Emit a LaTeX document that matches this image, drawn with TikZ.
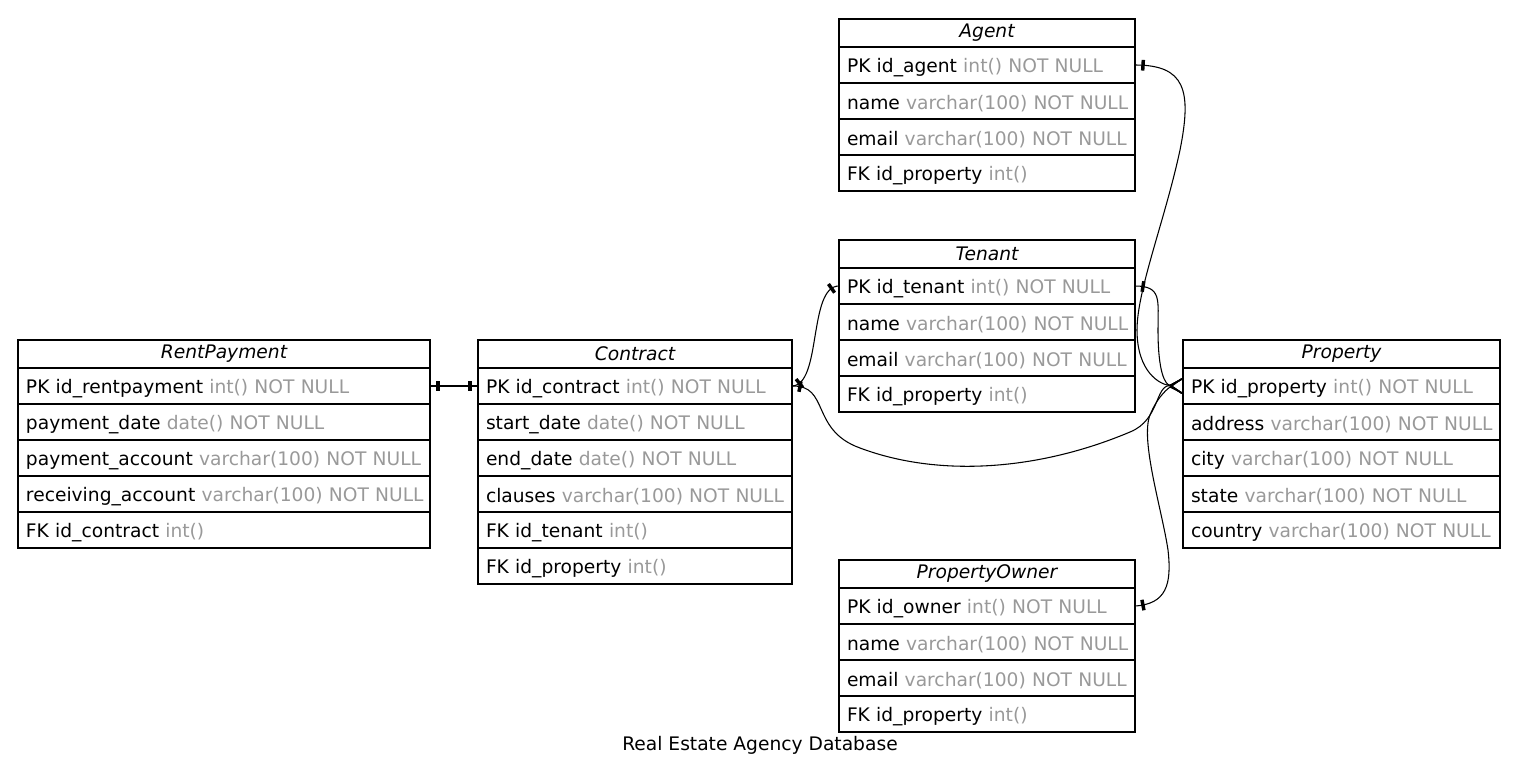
\documentclass[tikz,border=0pt]{standalone}
\usepackage{fontspec}
\setmainfont{DejaVu Sans}
\usetikzlibrary{positioning,arrows.meta,decorations.markings}
\definecolor{typegray}{HTML}{999999}
\newcommand{\coltype}[1]{\textcolor{typegray}{#1}}
\newcommand{\colrow}[2]{\raisebox{-2pt}[\height][\depth]{\mbox{#1 \coltype{#2}}}}
\begin{document}
\begin{tikzpicture}[x=0.75pt, y=-0.75pt, line width=0.8pt,
  font=\fontsize{14pt}{16pt}\selectfont,
  entity/.style={draw, anchor=north west, outer sep=0pt, minimum width=#1, minimum height=21pt, inner sep=0pt, font=\fontsize{14pt}{16pt}\selectfont\itshape},
  field/.style={draw, below=0pt of #1, outer sep=0pt, minimum height=27pt, inner xsep=6pt, inner ysep=0pt, align=left},
  tee ends/.style={postaction={decorate, decoration={markings,
    mark=at position 6pt with {\fill (-1.3pt,-4pt) rectangle (1.3pt,4pt);},
    mark=at position -6pt with {\fill (-1.3pt,-4pt) rectangle (1.3pt,4pt);}}}},
  tee start/.style={postaction={decorate, decoration={markings,
    mark=at position 6pt with {\fill (-1.3pt,-4pt) rectangle (1.3pt,4pt);}}}},
  crow/.tip={Straight Barb[reversed, length=9pt, width=11pt, line width=1.1pt]}]
\useasboundingbox (0,0) rectangle (1520,781);

% Agent
\node[entity=222pt] (agent) at (839,19) {Agent};
\node[field=agent, text width=210pt] (agent-pk) {\colrow{PK id\_agent}{int() NOT NULL}};
\node[field=agent-pk, text width=210pt] (agent-name) {\colrow{name}{varchar(100) NOT NULL}};
\node[field=agent-name, text width=210pt] (agent-email) {\colrow{email}{varchar(100) NOT NULL}};
\node[field=agent-email, text width=210pt] (agent-fk) {\colrow{FK id\_property}{int()}};

% Tenant
\node[entity=222pt] (tenant) at (839,240) {Tenant};
\node[field=tenant, text width=210pt] (tenant-pk) {\colrow{PK id\_tenant}{int() NOT NULL}};
\node[field=tenant-pk, text width=210pt] (tenant-name) {\colrow{name}{varchar(100) NOT NULL}};
\node[field=tenant-name, text width=210pt] (tenant-email) {\colrow{email}{varchar(100) NOT NULL}};
\node[field=tenant-email, text width=210pt] (tenant-fk) {\colrow{FK id\_property}{int()}};

% PropertyOwner
\node[entity=222pt] (owner) at (839,560) {PropertyOwner};
\node[field=owner, text width=210pt] (owner-pk) {\colrow{PK id\_owner}{int() NOT NULL}};
\node[field=owner-pk, text width=210pt] (owner-name) {\colrow{name}{varchar(100) NOT NULL}};
\node[field=owner-name, text width=210pt] (owner-email) {\colrow{email}{varchar(100) NOT NULL}};
\node[field=owner-email, text width=210pt] (owner-fk) {\colrow{FK id\_property}{int()}};

% RentPayment
\node[entity=309pt] (rentpayment) at (18,340) {RentPayment};
\node[field=rentpayment, text width=297pt] (rentpayment-pk) {\colrow{PK id\_rentpayment}{int() NOT NULL}};
\node[field=rentpayment-pk, text width=297pt] (rentpayment-date) {\colrow{payment\_date}{date() NOT NULL}};
\node[field=rentpayment-date, text width=297pt] (rentpayment-pay) {\colrow{payment\_account}{varchar(100) NOT NULL}};
\node[field=rentpayment-pay, text width=297pt] (rentpayment-recv) {\colrow{receiving\_account}{varchar(100) NOT NULL}};
\node[field=rentpayment-recv, text width=297pt] (rentpayment-fk) {\colrow{FK id\_contract}{int()}};

% Contract
\node[entity=235.5pt] (contract) at (478,340) {Contract};
\node[field=contract, text width=223.5pt] (contract-pk) {\colrow{PK id\_contract}{int() NOT NULL}};
\node[field=contract-pk, text width=223.5pt] (contract-start) {\colrow{start\_date}{date() NOT NULL}};
\node[field=contract-start, text width=223.5pt] (contract-end) {\colrow{end\_date}{date() NOT NULL}};
\node[field=contract-end, text width=223.5pt] (contract-clauses) {\colrow{clauses}{varchar(100) NOT NULL}};
\node[field=contract-clauses, text width=223.5pt] (contract-tenant) {\colrow{FK id\_tenant}{int()}};
\node[field=contract-tenant, text width=223.5pt] (contract-property) {\colrow{FK id\_property}{int()}};

% Property
\node[entity=237.75pt] (property) at (1183,340) {Property};
\node[field=property, text width=225.75pt] (property-pk) {\colrow{PK id\_property}{int() NOT NULL}};
\node[field=property-pk, text width=225.75pt] (property-address) {\colrow{address}{varchar(100) NOT NULL}};
\node[field=property-address, text width=225.75pt] (property-city) {\colrow{city}{varchar(100) NOT NULL}};
\node[field=property-city, text width=225.75pt] (property-state) {\colrow{state}{varchar(100) NOT NULL}};
\node[field=property-state, text width=225.75pt] (property-country) {\colrow{country}{varchar(100) NOT NULL}};

% relations
\draw[tee ends] (rentpayment-pk.east) -- (contract-pk.west);
\draw[tee ends] (contract-pk.east) .. controls (822,385) and (808,286) .. (tenant-pk.west);
\draw[tee start, -{crow}] (contract-pk.east) .. controls (830,385) and (810,430) .. (860,448)
  .. controls (940,478) and (1040,470) .. (1130,432) .. controls (1160,420) and (1155,385) .. (property-pk.west);
\draw[tee start, -{crow}] (agent-pk.east) .. controls (1185,65) and (1192,90) .. (1180,150)
  .. controls (1165,220) and (1137,290) .. (1137,330) .. controls (1137,372) and (1160,385) .. (property-pk.west);
\draw[tee start, -{crow}] (tenant-pk.east) .. controls (1162,286) and (1158,300) .. (1158,330)
  .. controls (1158,372) and (1165,385) .. (property-pk.west);
\draw[tee start, -{crow}] (owner-pk.east) .. controls (1166,604) and (1172,585) .. (1168,550)
  .. controls (1162,510) and (1140,440) .. (1150,415) .. controls (1158,395) and (1170,387) .. (property-pk.west);

\node (caption) at (760,745) {Real Estate Agency Database};
\end{tikzpicture}
\end{document}
